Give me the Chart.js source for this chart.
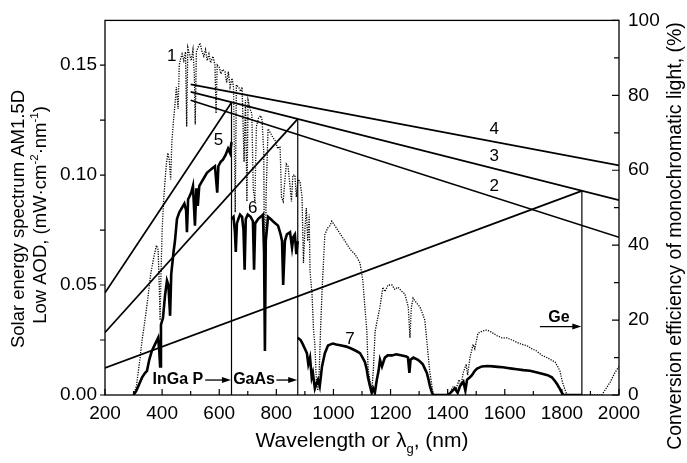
<!DOCTYPE html>
<html>
<head>
<meta charset="utf-8">
<script src="https://cdn.jsdelivr.net/npm/chart.js@4.4.1/dist/chart.umd.min.js"></script>
<style>
  html, body { margin: 0; padding: 0; background: #fff; }
  #wrap { width: 687px; height: 463px; }
</style>
</head>
<body>
<div id="wrap"><canvas id="chart" width="687" height="463"></canvas></div>
<script>
// axis ticks
const xTicks = [200, 400, 600, 800, 1000, 1200, 1400, 1600, 1800, 2000];
const yLeftTicks = [0, 0.05, 0.10, 0.15];
const yRightTicks = [0, 20, 40, 60, 80, 100];

// curve 1: AM1.5D spectrum (left axis)
const specNm = [300, 310, 320, 330, 340, 350, 360, 370, 380, 386, 390, 393, 396, 400, 405, 410, 415, 420, 425, 430,
  434, 440, 445, 450, 456, 460, 465, 470, 476, 482, 486, 490, 496, 502, 508, 513, 516, 520, 526, 533,
  540, 546, 552, 558, 564, 570, 578, 585, 589, 593, 600, 606, 612, 620, 626, 632, 638, 645, 650, 656,
  660, 668, 675, 680, 687, 692, 697, 701, 708, 714, 719, 725, 730, 738, 745, 750, 756, 760, 764, 771,
  780, 788, 795, 805, 813, 818, 824, 830, 835, 841, 848, 853, 858, 865, 870, 876, 883, 890, 895, 900,
  905, 910, 915, 918, 925, 930, 935, 940, 945, 950, 955, 960, 965, 970, 980, 988, 994, 1005, 1020, 1040,
  1060, 1075, 1085, 1093, 1103, 1110, 1117, 1121, 1128, 1135, 1140, 1146, 1155, 1163, 1173, 1180, 1191, 1205, 1215, 1226,
  1240, 1250, 1262, 1268, 1273, 1279, 1290, 1303, 1312, 1320, 1326, 1331, 1338, 1345, 1350, 1400, 1408, 1420, 1430, 1440,
  1447, 1454, 1465, 1470, 1478, 1489, 1495, 1506, 1520, 1535, 1548, 1560, 1572, 1590, 1607, 1625, 1642, 1660, 1677, 1695,
  1712, 1730, 1748, 1762, 1776, 1785, 1793, 1798, 1804, 1812, 1818, 1940, 1955, 1970, 1985, 2000];
const specVal = [0, 0.004, 0.014, 0.025, 0.034, 0.044, 0.055, 0.062, 0.068, 0.066, 0.050, 0.034, 0.055, 0.075, 0.088, 0.097, 0.105, 0.110, 0.107, 0.098,
  0.115, 0.125, 0.132, 0.140, 0.130, 0.150, 0.153, 0.155, 0.152, 0.156, 0.122, 0.158, 0.155, 0.152, 0.157, 0.145, 0.123, 0.156, 0.158, 0.160,
  0.156, 0.154, 0.157, 0.152, 0.155, 0.151, 0.154, 0.150, 0.128, 0.150, 0.149, 0.146, 0.148, 0.147, 0.142, 0.147, 0.140, 0.144, 0.140, 0.083,
  0.141, 0.140, 0.138, 0.140, 0.106, 0.134, 0.088, 0.134, 0.130, 0.128, 0.094, 0.088, 0.122, 0.126, 0.127, 0.125, 0.110, 0.020, 0.090, 0.121,
  0.119, 0.117, 0.116, 0.112, 0.113, 0.090, 0.088, 0.098, 0.105, 0.104, 0.095, 0.088, 0.100, 0.100, 0.090, 0.098, 0.097, 0.090, 0.060, 0.075,
  0.085, 0.070, 0.082, 0.056, 0.046, 0.030, 0.023, 0.007, 0.002, 0.010, 0.030, 0.047, 0.060, 0.073, 0.076, 0.077, 0.079, 0.077, 0.074, 0.070,
  0.066, 0.064, 0.062, 0.060, 0.052, 0.040, 0.029, 0.013, 0.006, 0.003, 0.012, 0.029, 0.035, 0.040, 0.049, 0.047, 0.050, 0.050, 0.048, 0.049,
  0.047, 0.046, 0.040, 0.026, 0.040, 0.044, 0.042, 0.040, 0.037, 0.034, 0.026, 0.019, 0.010, 0.004, 0, 0, 0.001, 0.004, 0.003, 0.007,
  0.004, 0.010, 0.014, 0.009, 0.017, 0.023, 0.021, 0.028, 0.029, 0.0295, 0.029, 0.028, 0.027, 0.026, 0.026, 0.025, 0.024, 0.023, 0.0225, 0.021,
  0.020, 0.018, 0.017, 0.016, 0.015, 0.013, 0.011, 0.008, 0.005, 0.002, 0, 0, 0.003, 0.006, 0.010, 0.013];

// curve 5: InGaP part
const ingapNm = [300, 310, 320, 330, 340, 347, 355, 364, 375, 386, 390, 393, 396, 403, 410, 417, 422, 428, 432, 440,
  445, 452, 460, 469, 478, 484, 487, 491, 495, 502, 508, 515, 520, 525, 530, 539, 548, 557, 566, 575, 585,
  593, 597, 605, 613, 622, 631, 638, 643];
const ingapVal = [0, 0.002, 0.005, 0.008, 0.010, 0.011, 0.016, 0.020, 0.023, 0.026, 0.020, 0.013, 0.032, 0.035, 0.045, 0.052, 0.050, 0.036, 0.055, 0.065,
  0.070, 0.080, 0.083, 0.085, 0.087, 0.084, 0.074, 0.089, 0.090, 0.092, 0.095, 0.077, 0.094, 0.086, 0.095, 0.097, 0.099, 0.101, 0.102, 0.103, 0.104,
  0.092, 0.104, 0.106, 0.107, 0.109, 0.112, 0.110, 0.115];

// curve 6: GaAs part
const gaasNm = [643, 650, 655, 658, 662, 667, 673, 680, 685, 689, 693, 700, 710, 718, 722, 726, 736, 745, 753, 757,
  760, 763, 771, 780, 788, 797, 806, 815, 820, 824, 830, 837, 848, 855, 860, 865, 870, 875];
const gaasVal = [0.080, 0.081, 0.074, 0.065, 0.078, 0.080, 0.082, 0.081, 0.075, 0.057, 0.080, 0.082, 0.081, 0.079, 0.057, 0.078, 0.080, 0.081, 0.082, 0.065,
  0.020, 0.070, 0.081, 0.080, 0.079, 0.078, 0.077, 0.073, 0.070, 0.050, 0.070, 0.073, 0.074, 0.067, 0.072, 0.073, 0.064, 0.070];

// curve 7: Ge part
const geNm = [875, 885, 893, 900, 907, 912, 918, 924, 928, 935, 940, 946, 952, 960, 965, 970, 981, 990, 998, 1010,
  1028, 1045, 1064, 1080, 1093, 1102, 1110, 1116, 1121, 1128, 1134, 1139, 1145, 1152, 1158, 1163, 1170, 1180, 1190, 1205,
  1220, 1240, 1255, 1261, 1266, 1270, 1280, 1296, 1305, 1313, 1320, 1327, 1333, 1338, 1345, 1350, 1400, 1410, 1425, 1435,
  1443, 1455, 1462, 1468, 1478, 1485, 1495, 1503, 1520, 1540, 1558, 1575, 1593, 1610, 1625, 1642, 1665, 1688, 1710, 1734,
  1750, 1765, 1775, 1783, 1792, 1800, 1805, 1870];
const geVal = [0.026, 0.025, 0.023, 0.021, 0.019, 0.014, 0.017, 0.008, 0.010, 0.003, 0.005, 0.007, 0.004, 0.013, 0.016, 0.019, 0.0225, 0.023, 0.0234, 0.023,
  0.0225, 0.022, 0.021, 0.020, 0.019, 0.017, 0.015, 0.012, 0.008, 0.004, 0.001, 0.003, 0.001, 0.007, 0.011, 0.016, 0.013, 0.017, 0.018, 0.018,
  0.0185, 0.018, 0.0175, 0.017, 0.010, 0.016, 0.017, 0.016, 0.015, 0.014, 0.012, 0.010, 0.007, 0.004, 0.001, 0, 0, 0.001, 0.003, 0.001,
  0.004, 0.006, 0.002, 0.007, 0.008, 0.009, 0.011, 0.012, 0.013, 0.0132, 0.013, 0.0128, 0.0126, 0.0123, 0.012, 0.0117, 0.0113, 0.011, 0.0103, 0.0095,
  0.009, 0.008, 0.0065, 0.005, 0.003, 0.001, 0, 0];

// lines 2, 3, 4: conversion efficiency vs band gap wavelength (right axis, %)
const effNm = [500, 2000];
const eff2 = [78.7, 42.1];
const eff3 = [80.9, 52.0];
const eff4 = [82.9, 61.3];

// rising lines for each junction: from 200 nm up to the gap wavelength
const gapNm = [643, 875, 1870];
const gapEff = [78.1, 73.7, 54.5];
const riseEff200 = [27.3, 16.7, 7.2];

const FONT = '"Liberation Sans", Arial, Helvetica, sans-serif';

function pts(xs, ys) {
    return xs.map((x, i) => ({ x: x, y: ys[i] }));
}

const datasets = [];
// dotted spectrum
datasets.push({ data: pts(specNm, specVal), yAxisID: 'y', borderColor: '#000', borderWidth: 1.3, borderDash: [1.2, 1.3] });
// thick curves 5, 6, 7
[[ingapNm, ingapVal], [gaasNm, gaasVal], [geNm, geVal]].forEach(c => {
    datasets.push({ data: pts(c[0], c[1]), yAxisID: 'y', borderColor: '#000', borderWidth: 2.6 });
});
// decreasing lines
[eff2, eff3, eff4].forEach(e => {
    datasets.push({ data: pts(effNm, e), yAxisID: 'y1', borderColor: '#000', borderWidth: 1.7 });
});
// rising lines and verticals
gapNm.forEach((g, i) => {
    datasets.push({ data: [{ x: 200, y: riseEff200[i] }, { x: g, y: gapEff[i] }], yAxisID: 'y1', borderColor: '#000', borderWidth: 1.7 });
    datasets.push({ data: [{ x: g, y: 0 }, { x: g, y: gapEff[i] }], yAxisID: 'y1', borderColor: '#000', borderWidth: 1.2 });
});

// curve numbers (nm, value, axis)
const curveLabels = [
    { t: '1', x: 434, y: 0.154, axis: 'y' },
    { t: '5', x: 597, y: 0.116, axis: 'y' },
    { t: '6', x: 717, y: 0.0848, axis: 'y' },
    { t: '7', x: 1058, y: 0.0255, axis: 'y' },
    { t: '4', x: 1563, y: 70.8, axis: 'y1' },
    { t: '3', x: 1563, y: 63.8, axis: 'y1' },
    { t: '2', x: 1563, y: 55.6, axis: 'y1' }
];

function drawRich(ctx, runs, x, y, rot, size) {
    ctx.save();
    ctx.translate(x, y);
    ctx.rotate(rot);
    ctx.textBaseline = 'alphabetic';
    ctx.textAlign = 'left';
    let w = 0;
    runs.forEach(r => {
        ctx.font = (r.sup || r.sub ? size * 0.62 : size) + 'px ' + FONT;
        r.w = ctx.measureText(r.t).width;
        w += r.w;
    });
    let cx = -w / 2;
    runs.forEach(r => {
        ctx.font = (r.sup || r.sub ? size * 0.62 : size) + 'px ' + FONT;
        const dy = r.sup ? -size * 0.42 : (r.sub ? size * 0.3 : 0);
        ctx.fillText(r.t, cx, dy);
        cx += r.w;
    });
    ctx.restore();
}

function arrow(ctx, x1, x2, y) {
    ctx.beginPath();
    ctx.moveTo(x1, y);
    ctx.lineTo(x2 - 7, y);
    ctx.stroke();
    ctx.beginPath();
    ctx.moveTo(x2, y);
    ctx.lineTo(x2 - 9, y - 3);
    ctx.lineTo(x2 - 9, y + 3);
    ctx.closePath();
    ctx.fill();
}

const decorations = {
    id: 'decorations',
    afterDraw(chart) {
        const ctx = chart.ctx;
        const a = chart.chartArea;
        const sx = chart.scales.x, sy = chart.scales.y, sy1 = chart.scales.y1;
        ctx.save();
        ctx.strokeStyle = '#000';
        ctx.fillStyle = '#000';
        ctx.lineWidth = 1.3;
        ctx.strokeRect(a.left, a.top, a.right - a.left, a.bottom - a.top);

        // ticks
        ctx.lineWidth = 1.2;
        ctx.beginPath();
        for (let v = 200; v <= 2000; v += 100) {
            const px = sx.getPixelForValue(v);
            const len = v % 200 === 0 ? 6 : 4;
            ctx.moveTo(px, a.bottom);
            ctx.lineTo(px, a.bottom - len);
        }
        for (let i = 0; i <= 6; i++) {
            const py = sy.getPixelForValue(i * 0.025);
            ctx.moveTo(a.left, py);
            ctx.lineTo(a.left - 5, py);
        }
        for (let v = 0; v <= 100; v += 10) {
            const py = sy1.getPixelForValue(v);
            const len = v % 20 === 0 ? 7 : 5;
            ctx.moveTo(a.right, py);
            ctx.lineTo(a.right - len, py);
        }
        ctx.stroke();

        // curve numbers
        ctx.font = '17px ' + FONT;
        ctx.textAlign = 'center';
        ctx.textBaseline = 'middle';
        curveLabels.forEach(l => {
            const s = l.axis === 'y' ? sy : sy1;
            ctx.fillText(l.t, sx.getPixelForValue(l.x), s.getPixelForValue(l.y));
        });

        // junction labels with arrows
        ctx.font = 'bold 16px ' + FONT;
        ctx.lineWidth = 1.3;
        const yb = sy.getPixelForValue(0.0068);
        ctx.fillText('InGa P', sx.getPixelForValue(455), yb);
        arrow(ctx, sx.getPixelForValue(551), sx.getPixelForValue(641), yb);
        ctx.fillText('GaAs', sx.getPixelForValue(722), yb);
        arrow(ctx, sx.getPixelForValue(800), sx.getPixelForValue(873), yb);
        ctx.fillText('Ge', sx.getPixelForValue(1790), sy.getPixelForValue(0.0351));
        arrow(ctx, sx.getPixelForValue(1723), sx.getPixelForValue(1868), sy.getPixelForValue(0.0311));

        // axis titles
        ctx.fillStyle = '#000';
        drawRich(ctx, [{ t: 'Wavelength or \u03bb' }, { t: 'g', sub: true }, { t: ', (nm)' }], (a.left + a.right) / 2, 447, 0, 21);
        drawRich(ctx, [{ t: 'Solar energy spectrum AM1.5D' }], 24, 219, -Math.PI / 2, 18.5);
        drawRich(ctx, [{ t: 'Low AOD, (mW\u00b7cm' }, { t: '-2', sup: true }, { t: '\u00b7nm' }, { t: '-1', sup: true }, { t: ')' }], 46, 215, -Math.PI / 2, 18.5);
        drawRich(ctx, [{ t: 'Conversion efficiency of monochromatic light, (%)' }], 681, 236, -Math.PI / 2, 19.5);
        ctx.restore();
    }
};

new Chart(document.getElementById('chart'), {
    type: 'line',
    data: { datasets: datasets },
    options: {
        responsive: false,
        animation: false,
        layout: { padding: { top: 17, left: 0, right: 0, bottom: 0 } },
        elements: { point: { radius: 0 }, line: { tension: 0 } },
        plugins: { legend: { display: false }, tooltip: { enabled: false } },
        scales: {
            x: {
                type: 'linear', position: 'bottom', min: 200, max: 2000,
                afterBuildTicks: s => { s.ticks = xTicks.map(v => ({ value: v })); },
                afterFit: s => { s.height = 68; },
                grid: { display: false, drawTicks: false },
                border: { display: false },
                ticks: { color: '#000', font: { family: FONT, size: 19 }, padding: 7, maxRotation: 0, autoSkip: false, callback: v => String(v) }
            },
            y: {
                type: 'linear', position: 'left', min: 0, max: 0.1703,
                afterBuildTicks: s => { s.ticks = yLeftTicks.map(v => ({ value: v })); },
                afterFit: s => { s.width = 105; },
                grid: { display: false, drawTicks: false },
                border: { display: false },
                ticks: { color: '#000', font: { family: FONT, size: 19 }, padding: 8, callback: v => v.toFixed(2) }
            },
            y1: {
                type: 'linear', position: 'right', min: 0, max: 100,
                afterBuildTicks: s => { s.ticks = yRightTicks.map(v => ({ value: v })); },
                afterFit: s => { s.width = 68; },
                grid: { display: false, drawTicks: false },
                border: { display: false },
                ticks: { color: '#000', font: { family: FONT, size: 19 }, padding: 9, callback: v => String(v) }
            }
        }
    },
    plugins: [decorations]
});
</script>
</body>
</html>
